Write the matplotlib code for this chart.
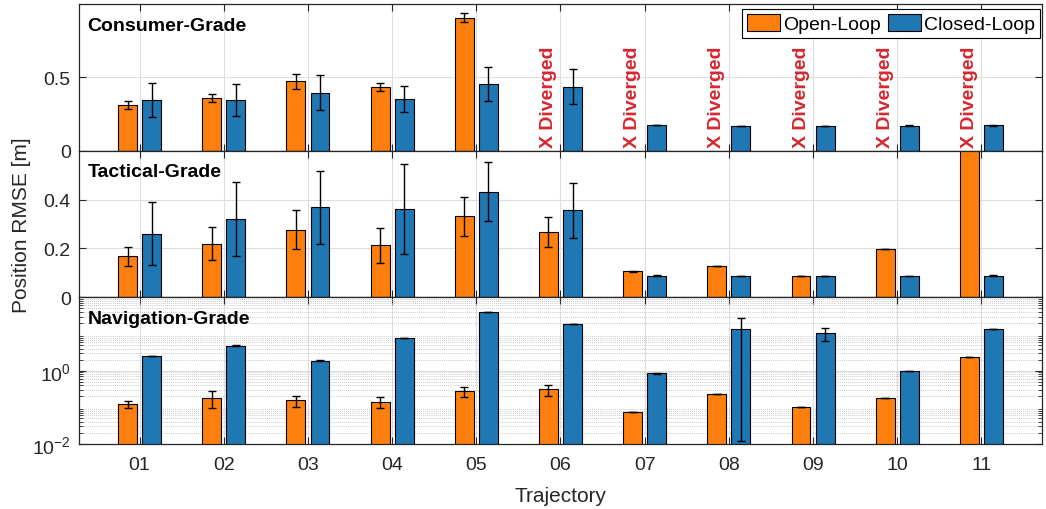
import numpy as np
import matplotlib
matplotlib.use('Agg')
import matplotlib.pyplot as plt

plt.rcParams['font.family'] = ['Liberation Sans', 'DejaVu Sans']

trajectories = ['01', '02', '03', '04', '05', '06', '07', '08', '09', '10', '11']
nan = np.nan

# consumer grade (open loop diverged from 06 on)
consumer_open = [0.311, 0.360, 0.473, 0.437, 0.908, nan, nan, nan, nan, nan, nan]
consumer_open_err = [0.026, 0.030, 0.050, 0.027, 0.030, nan, nan, nan, nan, nan, nan]
consumer_closed = [0.347, 0.347, 0.396, 0.354, 0.455, 0.437, 0.176, 0.171, 0.171, 0.171, 0.173]
consumer_closed_err = [0.117, 0.108, 0.118, 0.090, 0.115, 0.118, 0.0, 0.0, 0.0, 0.003, 0.003]

# tactical grade
tactical_open = [0.168, 0.219, 0.276, 0.2125, 0.331, 0.268, 0.106, 0.128, 0.089, 0.199, 0.75]
tactical_open_err = [0.040, 0.067, 0.080, 0.072, 0.079, 0.061, 0.002, 0.0, 0.0, 0.0, 0.0]
tactical_closed = [0.261, 0.321, 0.369, 0.3625, 0.433, 0.356, 0.089, 0.086, 0.086, 0.086, 0.089]
tactical_closed_err = [0.128, 0.153, 0.150, 0.185, 0.120, 0.112, 0.003, 0.0, 0.0, 0.0, 0.002]

# navigation grade (log scale)
nav_open = [0.121, 0.184, 0.155, 0.140, 0.279, 0.310, 0.0746, 0.226, 0.102, 0.176, 2.31]
nav_open_err = [0.027, 0.090, 0.053, 0.046, 0.087, 0.100, 0.002, 0.0, 0.0, 0.0, 0.0]
nav_closed = [2.56, 4.8, 1.87, 7.78, 39.0, 19.1, 0.845, 13.5, 10.6, 0.98, 14.0]
nav_closed_err = [0.03, 0.08, 0.03, 0.0, 0.0, 0.0, 0.03, 13.488, 4.0, 0.0, 0.0]

orange = '#FF7F0E'
blue = '#1F77B4'
red = '#D7262F'
dark = '#262626'
offset = 0.143
width = 0.225


def draw_panel(ax, open_vals, open_err, closed_vals, closed_err, title):
    x = np.arange(1, len(trajectories) + 1)
    ov = np.array(open_vals, dtype=float)
    oe = np.array(open_err, dtype=float)
    cv = np.array(closed_vals, dtype=float)
    ce = np.array(closed_err, dtype=float)
    ok = ~np.isnan(ov)

    ax.bar(x[ok] - offset, ov[ok], width, color=orange, edgecolor='k',
           linewidth=0.8, label='Open-Loop', zorder=2)
    ax.bar(x + offset, cv, width, color=blue, edgecolor='k',
           linewidth=0.8, label='Closed-Loop', zorder=2)
    ax.errorbar(x[ok] - offset, ov[ok], yerr=oe[ok], fmt='none', ecolor='k',
                elinewidth=1, capsize=3, capthick=1, zorder=3)
    ax.errorbar(x + offset, cv, yerr=ce, fmt='none', ecolor='k',
                elinewidth=1, capsize=3, capthick=1, zorder=3)

    for i in x[~ok]:
        ax.text(i - offset, 0.027, 'X Diverged', rotation=90, ha='center',
                va='bottom', color=red, fontsize=14, fontweight='bold', zorder=4)

    ax.text(0.009, 0.913, title, transform=ax.transAxes, ha='left', va='top',
            fontsize=14, fontweight='bold', zorder=5)

    ax.set_axisbelow(True)
    ax.grid(True, which='major', color='0.87', linewidth=0.8)
    ax.tick_params(which='both', direction='in', top=True, right=True,
                   labelsize=14, colors=dark, pad=6)
    ax.tick_params(which='major', length=5)
    ax.tick_params(which='minor', length=3)
    for s in ax.spines.values():
        s.set_color(dark)
        s.set_linewidth(0.9)


fig, axes = plt.subplots(3, 1, sharex=True, figsize=(10.46, 5.10), dpi=100)
fig.subplots_adjust(left=0.0755, right=0.9962, top=0.990, bottom=0.1275, hspace=0)

ax1, ax2, ax3 = axes
draw_panel(ax1, consumer_open, consumer_open_err, consumer_closed, consumer_closed_err, 'Consumer-Grade')
draw_panel(ax2, tactical_open, tactical_open_err, tactical_closed, tactical_closed_err, 'Tactical-Grade')
ax3.set_yscale('log')
draw_panel(ax3, nav_open, nav_open_err, nav_closed, nav_closed_err, 'Navigation-Grade')

ax1.set_ylim(0, 1.0)
ax1.set_yticks([0, 0.5])
ax1.set_yticklabels(['0', '0.5'])
ax2.set_ylim(0, 0.6)
ax2.set_yticks([0, 0.2, 0.4])
ax2.set_yticklabels(['0', '0.2', '0.4'])
ax3.set_ylim(1e-2, 1e2)
ax3.set_yticks([1e-2, 1e0])
ax3.yaxis.set_minor_locator(matplotlib.ticker.LogLocator(base=10, subs=np.arange(2, 10), numticks=20))
ax3.yaxis.set_minor_formatter(matplotlib.ticker.NullFormatter())
ax3.grid(True, which='minor', axis='y', color='0.72', linestyle=(0, (1, 1.5)), linewidth=0.6)

ax3.set_xlim(0.28, 11.72)
ax3.set_xticks(np.arange(1, len(trajectories) + 1))
ax3.set_xticklabels(trajectories)
ax3.tick_params(axis='x', pad=9)
ax3.set_xlabel('Trajectory', fontsize=15, color=dark, labelpad=9)

leg = ax1.legend(loc='upper right', bbox_to_anchor=(0.998, 0.965), ncol=2,
                 fontsize=14, frameon=True, fancybox=False, framealpha=1,
                 edgecolor='k', borderaxespad=0, borderpad=0.25,
                 handlelength=1.7, handleheight=1.0, handletextpad=0.15,
                 columnspacing=0.4)
leg.get_frame().set_linewidth(0.8)

fig.text(0.021, 0.559, 'Position RMSE [m]', rotation=90, ha='center', va='center',
         fontsize=15, color=dark)

fig.savefig('out.png', dpi=100)
